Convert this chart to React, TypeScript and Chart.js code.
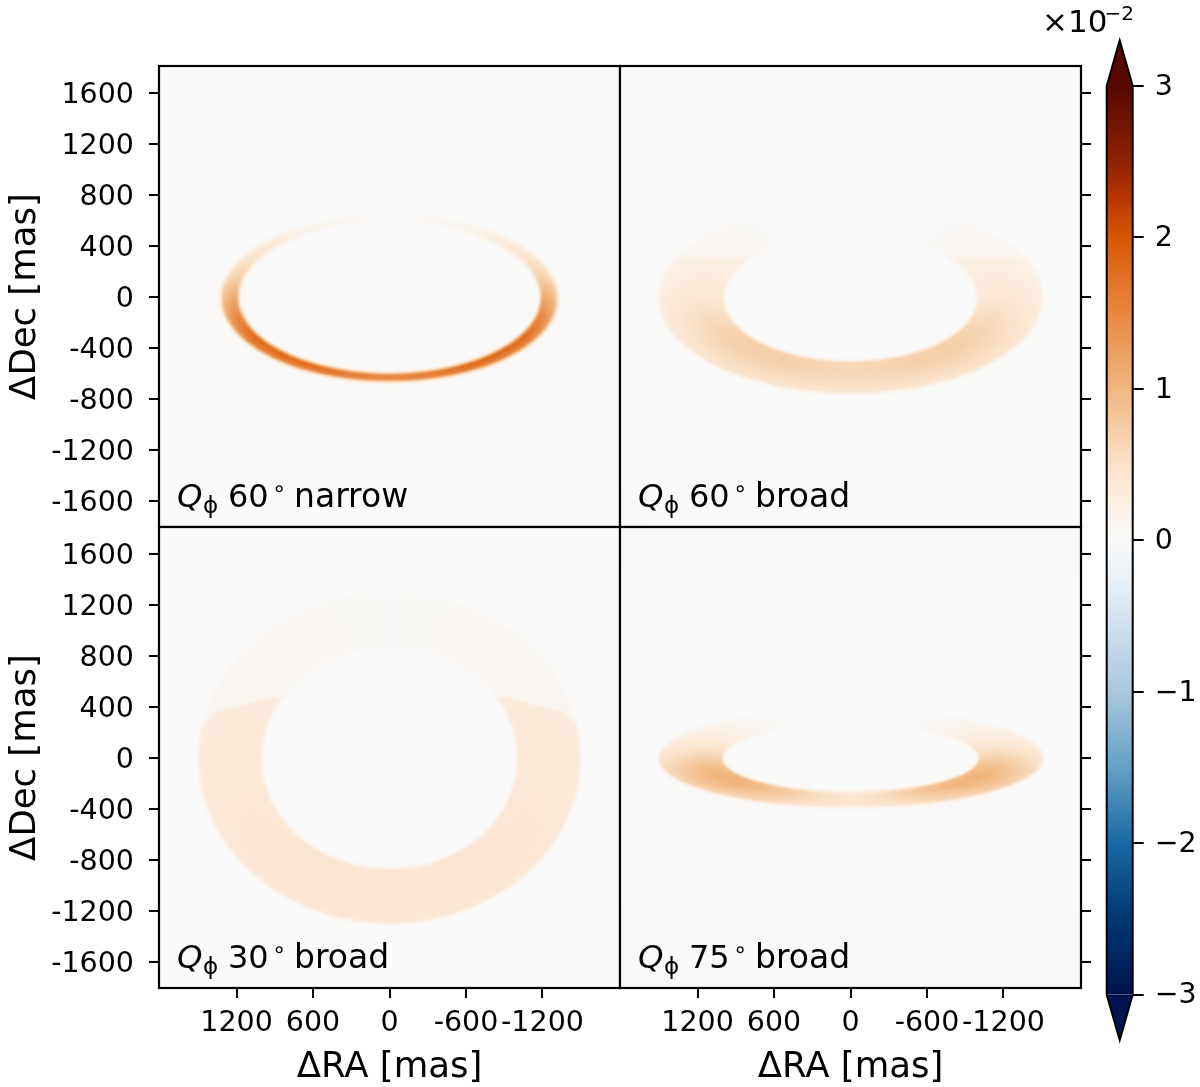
import React, { useEffect, useRef } from "react";
import { Chart, registerables } from "chart.js";

Chart.register(...registerables);

const FONT = '"DejaVu Sans"';
const LIMIT_LOW = -1803;
const LIMIT_HIGH = 1813;
const LIMIT_X = 1808;

// Tick values
const xTicks = [1200, 600, 0, -600, -1200];
const yTicks = [1600, 1200, 800, 400, 0, -400, -800, -1200, -1600];
const colorTicks = [3, 2, 1, 0, -1, -2, -3];
const colorRange = [-3, 3];

// Colour scale: value, r, g, b
const cmapStops = [
  [-3, 0, 20, 80], [-2.5, 0, 55, 115], [-2, 25, 105, 165], [-1.5, 100, 160, 198],
  [-1, 170, 200, 222], [-0.5, 215, 226, 238], [-0.25, 234, 241, 247], [0, 250, 250, 250],
  [0.25, 251, 240, 229], [0.5, 250, 225, 200], [1, 240, 182, 128], [1.5, 232, 135, 65],
  [1.75, 226, 112, 35], [2, 212, 88, 5], [2.25, 185, 55, 0], [2.5, 140, 35, 0], [3, 88, 8, 0],
];

// Ring tables: azimuth across the columns (0 = top, 90 = side, 180 = bottom), radial fraction down the rows
const azimuths = [0, 30, 60, 75, 90, 105, 120, 135, 150, 165, 180];
const radialFractions = [0, 0.33, 0.66, 1];

const narrow60Ring = [
  [0.03, 0.12, 0.4, 0.6, 1.05, 1.4, 1.6, 1.65, 1.6, 1.45, 1.35],
  [0.05, 0.18, 0.46, 0.7, 1.1, 1.5, 1.75, 1.8, 1.78, 1.6, 1.5],
  [0.05, 0.16, 0.42, 0.62, 0.95, 1.3, 1.55, 1.6, 1.6, 1.5, 1.4],
  [0.03, 0.1, 0.3, 0.42, 0.7, 0.95, 1.15, 1.2, 1.2, 1.1, 1.0],
];
const broad60Ring = [
  [0.08, 0.1, 0.25, 0.3, 0.36, 0.52, 0.65, 0.7, 0.7, 0.65, 0.62],
  [0.08, 0.1, 0.27, 0.33, 0.42, 0.58, 0.66, 0.7, 0.7, 0.66, 0.62],
  [0.06, 0.08, 0.24, 0.3, 0.37, 0.47, 0.54, 0.58, 0.58, 0.57, 0.55],
  [0.04, 0.06, 0.18, 0.22, 0.26, 0.32, 0.38, 0.42, 0.42, 0.42, 0.42],
];
const broad30Ring = [
  [0.1, 0.15, 0.32, 0.34, 0.34, 0.36, 0.38, 0.4, 0.4, 0.4, 0.4],
  [0.1, 0.15, 0.33, 0.35, 0.36, 0.38, 0.41, 0.43, 0.43, 0.43, 0.43],
  [0.1, 0.15, 0.32, 0.33, 0.35, 0.37, 0.4, 0.42, 0.42, 0.42, 0.42],
  [0.08, 0.12, 0.28, 0.3, 0.32, 0.34, 0.36, 0.38, 0.38, 0.38, 0.38],
];
const broad75Ring = [
  [0.02, 0.05, 0.28, 0.45, 0.65, 0.85, 0.95, 0.9, 0.72, 0.5, 0.33],
  [0.02, 0.05, 0.3, 0.48, 0.7, 0.92, 1.02, 0.98, 0.82, 0.6, 0.42],
  [0.02, 0.05, 0.28, 0.42, 0.58, 0.76, 0.86, 0.82, 0.7, 0.55, 0.42],
  [0.01, 0.04, 0.2, 0.3, 0.42, 0.55, 0.62, 0.6, 0.52, 0.42, 0.35],
];

// Paler upper part of the ring, by azimuth
const broad60Upper = [0.01, 0.04, 0.11, 0.12, 0.12, 0.12, 0.12, 0.12, 0.12, 0.12, 0.12];
const broad30Upper = [0.05, 0.07, 0.1, 0.12, 0.12, 0.12, 0.12, 0.12, 0.12, 0.12, 0.12];

// Where the ring turns pale: |dRA| and dDec of the boundary
const broad60SplitX = [840, 1319];
const broad60SplitY = [315, 315];
const broad30SplitX = [918, 1150, 1357, 1450];
const broad30SplitY = [479, 416, 363, 275];

// Faint background, coarse grid
const bgX = [-1800, -1350, -900, -450, 0, 450, 900, 1350, 1800];
const bgY = [1800, 1350, 900, 450, 0, -450, -900, -1350, -1800];
const narrow60Bg = [
  [0, -0.01, -0.02, -0.03, -0.03, -0.03, -0.02, -0.01, 0],
  [0, -0.01, -0.04, -0.04, -0.04, -0.04, -0.04, -0.01, 0],
  [0, 0, -0.01, -0.03, -0.04, -0.03, -0.01, 0, 0],
  [0, 0, 0, -0.01, -0.03, -0.01, 0, 0, 0],
  [0.01, 0.03, 0.01, 0.01, -0.03, 0.01, 0.01, 0.03, 0.01],
  [0, 0.02, 0.02, 0.02, 0.02, 0.02, 0.02, 0.02, 0],
  [0, 0.01, 0.01, 0.02, 0.02, 0.02, 0.01, 0.01, 0],
  [0, 0, 0, 0, 0, 0, 0, 0, 0],
  [-0.01, 0, 0, 0, 0, 0, 0, 0, -0.02],
];
const broad60Bg = [
  [-0.01, -0.01, -0.02, -0.03, -0.03, -0.03, -0.02, -0.01, -0.01],
  [0, -0.01, -0.04, -0.04, -0.04, -0.04, -0.04, -0.01, 0],
  [0, 0, -0.01, -0.03, -0.04, -0.03, -0.01, 0, 0],
  [0, 0, 0, -0.01, -0.03, -0.01, 0, 0, 0],
  [0, 0.01, 0, 0, -0.03, 0, 0, 0.01, 0],
  [0, 0.01, 0.01, 0, 0, 0, 0.01, 0.01, 0],
  [0, 0, 0.01, 0.01, 0.01, 0.01, 0.01, 0, 0],
  [0, 0, 0, 0, 0, 0, 0, 0, -0.01],
  [-0.01, 0, 0, 0, 0, 0, 0, -0.01, -0.02],
];
const broad30Bg = [
  [0, 0, 0, 0, 0, 0, 0, 0, 0],
  [0, 0, 0, 0, 0, 0, 0, 0, 0],
  [0, 0, 0, 0, 0, 0, 0, 0, 0],
  [0, 0, 0, 0, -0.01, 0, 0, 0, 0],
  [0, 0.01, 0, 0, -0.02, 0, 0, 0.01, 0],
  [0, 0.01, 0, 0, 0, 0, 0, 0.01, 0],
  [0, 0, 0.01, 0.01, 0, 0.01, 0.01, 0, 0],
  [0, 0, 0, 0.01, 0.01, 0.01, 0, 0, 0],
  [0, 0, 0, 0, 0, 0, 0, 0, 0],
];
const broad75Bg = [
  [-0.03, -0.03, -0.03, -0.03, -0.03, -0.03, -0.03, -0.03, -0.02],
  [-0.01, -0.03, -0.04, -0.04, -0.04, -0.04, -0.04, -0.03, -0.01],
  [0, 0, -0.03, -0.04, -0.04, -0.04, -0.03, 0, 0],
  [0, 0, 0, -0.02, -0.03, -0.02, 0, 0, 0],
  [0, 0.01, 0.01, 0, -0.02, 0, 0.01, 0.01, 0],
  [0, 0.01, 0.03, 0.02, -0.01, 0.02, 0.03, 0.01, 0],
  [0, -0.01, 0, -0.02, -0.03, -0.02, 0, -0.01, 0],
  [-0.02, -0.03, -0.03, -0.04, -0.04, -0.04, -0.03, -0.03, -0.02],
  [-0.03, -0.03, -0.04, -0.04, -0.04, -0.04, -0.04, -0.03, -0.03],
];

type Panel = {
  label: string; name: string;
  ri: number; ro: number; q: number; y0: number; soft: number;
  ring: number[][]; bg: number[][];
  upper?: number[]; splitX?: number[]; splitY?: number[];
  frame: { left: number; top: number; width: number; height: number; pad: number[] };
  leftLabels: boolean; bottomLabels: boolean;
};

const panels: Panel[] = [
  { label: "60", name: "narrow", ri: 1180, ro: 1325, q: 0.5, y0: -5, soft: 28, ring: narrow60Ring, bg: narrow60Bg,
    frame: { left: 0, top: 0, width: 640, height: 587, pad: [0, 66, 20, 60] }, leftLabels: true, bottomLabels: false },
  { label: "60", name: "broad", ri: 990, ro: 1507, q: 0.5, y0: -5, soft: 26, ring: broad60Ring, bg: broad60Bg,
    upper: broad60Upper, splitX: broad60SplitX, splitY: broad60SplitY,
    frame: { left: 600, top: 0, width: 600, height: 587, pad: [20, 66, 0, 60] }, leftLabels: false, bottomLabels: false },
  { label: "30", name: "broad", ri: 1000, ro: 1500, q: 0.866, y0: 0, soft: 26, ring: broad30Ring, bg: broad30Bg,
    upper: broad30Upper, splitX: broad30SplitX, splitY: broad30SplitY,
    frame: { left: 0, top: 467, width: 640, height: 624, pad: [0, 60, 20, 0] }, leftLabels: true, bottomLabels: true },
  { label: "75", name: "broad", ri: 1000, ro: 1509, q: 0.26, y0: 0, soft: 24, ring: broad75Ring, bg: broad75Bg,
    frame: { left: 600, top: 467, width: 600, height: 624, pad: [20, 60, 0, 0] }, leftLabels: false, bottomLabels: true },
];

const clamp01 = (t: number) => Math.max(0, Math.min(1, t));
const smooth = (t: number) => {
  const u = clamp01((t + 1) / 2);
  return u * u * (3 - 2 * u);
};

function colorOf(v: number): [number, number, number] {
  const s = cmapStops;
  if (v <= s[0][0]) return [s[0][1], s[0][2], s[0][3]];
  for (let i = 1; i < s.length; i++) {
    if (v <= s[i][0]) {
      const f = (v - s[i - 1][0]) / (s[i][0] - s[i - 1][0]);
      return [
        s[i - 1][1] + f * (s[i][1] - s[i - 1][1]),
        s[i - 1][2] + f * (s[i][2] - s[i - 1][2]),
        s[i - 1][3] + f * (s[i][3] - s[i - 1][3]),
      ];
    }
  }
  const l = s[s.length - 1];
  return [l[1], l[2], l[3]];
}

function locate(list: number[], v: number): [number, number] {
  const asc = list[1] > list[0];
  for (let i = 0; i < list.length - 1; i++) {
    const a = list[i], b = list[i + 1];
    if (asc ? v <= b : v >= b) return [i, clamp01((v - a) / (b - a))];
  }
  return [list.length - 2, 1];
}

function bgValue(p: Panel, x: number, y: number) {
  const [i, fx] = locate(bgX, x);
  const [j, fy] = locate(bgY, y);
  const t = p.bg;
  return (t[j][i] * (1 - fx) + t[j][i + 1] * fx) * (1 - fy) + (t[j + 1][i] * (1 - fx) + t[j + 1][i + 1] * fx) * fy;
}

function ringValue(p: Panel, x: number, y: number) {
  const yy = y - p.y0;
  const v = yy / p.q;
  const rho = Math.hypot(x, v) || 1;
  if (rho < p.ri - 300 || rho > p.ro + 300) return 0;
  const grad = Math.hypot(x, v / p.q) / rho;
  const mask = smooth((rho - p.ri) / grad / p.soft) * smooth((p.ro - rho) / grad / p.soft);
  if (mask <= 0) return 0;
  const az = (Math.atan2(Math.abs(x), v) * 180) / Math.PI;
  const [c, fc] = locate(azimuths, az);
  const [r, fr] = locate(radialFractions, clamp01((rho - p.ri) / (p.ro - p.ri)));
  const t = p.ring;
  let val = (t[r][c] * (1 - fc) + t[r][c + 1] * fc) * (1 - fr) + (t[r + 1][c] * (1 - fc) + t[r + 1][c + 1] * fc) * fr;
  if (p.upper && p.splitX && p.splitY) {
    const [k, fk] = locate(p.splitX, Math.abs(x));
    const edge = p.splitY[k] * (1 - fk) + p.splitY[k + 1] * fk;
    const w = clamp01((yy - edge) / 30 + 0.5);
    const up = p.upper[c] * (1 - fc) + p.upper[c + 1] * fc;
    val = val * (1 - w) + up * w;
  }
  return mask * val;
}

const heatPlugin = {
  id: "heat",
  beforeDatasetsDraw(chart: any) {
    const p: Panel = chart.options.plugins.heat.panel;
    const { left, top, width, height } = chart.chartArea;
    const w = Math.ceil(width), h = Math.ceil(height);
    const off = document.createElement("canvas");
    off.width = w;
    off.height = h;
    const oc = off.getContext("2d") as CanvasRenderingContext2D;
    const img = oc.createImageData(w, h);
    const xs = chart.scales.x, ys = chart.scales.y;
    for (let j = 0; j < h; j++) {
      const dy = ys.getValueForPixel(top + j + 0.5);
      for (let i = 0; i < w; i++) {
        const dx = xs.getValueForPixel(left + i + 0.5);
        const col = colorOf(bgValue(p, dx, dy) + ringValue(p, dx, dy));
        const k = (j * w + i) * 4;
        img.data[k] = col[0];
        img.data[k + 1] = col[1];
        img.data[k + 2] = col[2];
        img.data[k + 3] = 255;
      }
    }
    oc.putImageData(img, 0, 0);
    chart.ctx.drawImage(off, left, top, width, height);
  },
  afterDraw(chart: any) {
    const p: Panel = chart.options.plugins.heat.panel;
    const { left, bottom, width, height, top } = chart.chartArea;
    const ctx = chart.ctx;
    ctx.save();
    ctx.strokeStyle = "#000";
    ctx.lineWidth = 2.2;
    ctx.strokeRect(left, top, width, height);
    ctx.fillStyle = "#000";
    ctx.textBaseline = "alphabetic";
    ctx.textAlign = "left";
    const tx = left + 18, ty = bottom - 20.5;
    ctx.font = `italic 32.5px ${FONT}`;
    ctx.fillText("Q", tx, ty);
    ctx.font = `23px ${FONT}`;
    ctx.fillText("\u03D5", tx + 26, ty + 6);
    ctx.font = `32px ${FONT}`;
    ctx.fillText(p.label, tx + 51, ty);
    ctx.font = `23px ${FONT}`;
    ctx.fillText("\u2218", tx + 95, ty - 11);
    ctx.font = `33px ${FONT}`;
    ctx.fillText(p.name, tx + 117, ty);
    ctx.restore();
  },
};

const colorbarPlugin = {
  id: "colorbarDecor",
  afterDraw(chart: any) {
    const { left, right } = chart.chartArea;
    const ys = chart.scales.y;
    const t = ys.getPixelForValue(colorRange[1]);
    const b = ys.getPixelForValue(colorRange[0]);
    const mid = (left + right) / 2;
    const tip = 45.5;
    const ctx = chart.ctx;
    ctx.save();
    const hi = colorOf(colorRange[1]);
    const lo = colorOf(colorRange[0]);
    ctx.fillStyle = `rgb(${hi.join(",")})`;
    ctx.beginPath();
    ctx.moveTo(left, t);
    ctx.lineTo(mid, t - tip);
    ctx.lineTo(right, t);
    ctx.closePath();
    ctx.fill();
    ctx.fillStyle = `rgb(${lo.join(",")})`;
    ctx.beginPath();
    ctx.moveTo(left, b);
    ctx.lineTo(mid, b + tip);
    ctx.lineTo(right, b);
    ctx.closePath();
    ctx.fill();
    ctx.strokeStyle = "#000";
    ctx.lineWidth = 2;
    ctx.beginPath();
    ctx.moveTo(left, t);
    ctx.lineTo(mid, t - tip);
    ctx.lineTo(right, t);
    ctx.lineTo(right, b);
    ctx.lineTo(mid, b + tip);
    ctx.lineTo(left, b);
    ctx.closePath();
    ctx.stroke();
    ctx.fillStyle = "#000";
    ctx.textAlign = "left";
    ctx.textBaseline = "alphabetic";
    ctx.font = `31px ${FONT}`;
    ctx.fillText("\u00D710", 12, 31.5);
    ctx.font = `20px ${FONT}`;
    ctx.fillText("\u22122", 74.5, 20);
    ctx.restore();
  },
};

function panelConfig(p: Panel): any {
  const rightSide = !p.leftLabels;
  const nodes: any[] = [];
  radialFractions.forEach((s, r) => {
    azimuths.forEach((az, c) => {
      const rho = p.ri + s * (p.ro - p.ri);
      const a = (az * Math.PI) / 180;
      nodes.push({ x: rho * Math.sin(a), y: p.y0 + p.q * rho * Math.cos(a), v: p.ring[r][c] });
    });
  });
  const [pl, pt, pr, pb] = p.frame.pad;
  return {
    type: "scatter",
    data: { datasets: [{ label: `Q\u03D5 ${p.label}\u00B0 ${p.name}`, data: nodes, pointRadius: 0, showLine: false }] },
    plugins: [heatPlugin],
    options: {
      responsive: false,
      animation: false,
      events: [],
      layout: { padding: { left: pl, top: pt, right: pr, bottom: pb } },
      plugins: { legend: { display: false }, tooltip: { enabled: false }, heat: { panel: p } },
      scales: {
        x: {
          type: "linear",
          display: p.bottomLabels,
          reverse: true,
          min: -LIMIT_X,
          max: LIMIT_X,
          afterBuildTicks: (s: any) => { s.ticks = xTicks.map((value) => ({ value })); },
          afterFit: (s: any) => { if (p.bottomLabels) s.height = 103; },
          border: { display: false },
          grid: { drawOnChartArea: false, drawTicks: true, tickLength: 10, color: "#000", lineWidth: 2 },
          ticks: {
            color: "#000", font: { family: "DejaVu Sans", size: 28.5 }, padding: 8, maxRotation: 0, autoSkip: false,
            callback: (v: number) => `${v}`,
          },
          title: { display: true, text: "\u0394RA [mas]", color: "#000", font: { family: "DejaVu Sans", size: 35.5 }, padding: { top: 0, bottom: 2 } },
        },
        y: {
          type: "linear",
          position: rightSide ? "right" : "left",
          min: LIMIT_LOW,
          max: LIMIT_HIGH,
          afterBuildTicks: (s: any) => { s.ticks = yTicks.map((value) => ({ value })); },
          afterFit: (s: any) => { s.width = rightSide ? 119 : 159; },
          border: { display: false },
          grid: { drawOnChartArea: false, drawTicks: true, tickLength: 10, color: "#000", lineWidth: 2 },
          ticks: {
            display: !rightSide,
            color: "#000", font: { family: "DejaVu Sans", size: 28.5 }, padding: 15, autoSkip: false, labelOffset: 2,
            callback: (v: number) => `${v}`,
          },
          title: {
            display: !rightSide, text: "\u0394Dec [mas]", color: "#000",
            font: { family: "DejaVu Sans", size: 35.5 }, padding: { top: 4, bottom: 0 },
          },
        },
      },
    },
  };
}

function colorbarConfig(): any {
  return {
    type: "bar",
    data: {
      labels: ["colour"],
      datasets: [{
        label: "Q\u03D5",
        data: [colorRange],
        barPercentage: 1,
        categoryPercentage: 1,
        borderWidth: 0,
        backgroundColor: (ctx: any) => {
          const ca = ctx.chart.chartArea;
          if (!ca) return "#fafafa";
          const ys = ctx.chart.scales.y;
          const t = ys.getPixelForValue(colorRange[1]);
          const b = ys.getPixelForValue(colorRange[0]);
          const g = ctx.chart.ctx.createLinearGradient(0, t, 0, b);
          cmapStops.forEach((s) => {
            g.addColorStop((t - ys.getPixelForValue(s[0])) / (t - b), `rgb(${s[1]},${s[2]},${s[3]})`);
          });
          return g;
        },
      }],
    },
    plugins: [colorbarPlugin],
    options: {
      responsive: false,
      animation: false,
      events: [],
      layout: { padding: { left: 76.7, top: 86, right: 0, bottom: 92.5 } },
      plugins: { legend: { display: false }, tooltip: { enabled: false } },
      scales: {
        x: { type: "category", display: false },
        y: {
          type: "linear",
          position: "right",
          min: colorRange[0],
          max: colorRange[1],
          afterBuildTicks: (s: any) => { s.ticks = colorTicks.map((value) => ({ value })); },
          afterFit: (s: any) => { s.width = 67.3; },
          border: { display: false },
          grid: { drawOnChartArea: false, drawTicks: true, tickLength: 11, color: "#000", lineWidth: 2 },
          ticks: {
            color: "#000", font: { family: "DejaVu Sans", size: 28.5 }, padding: 11, autoSkip: false, labelOffset: 1.5,
            callback: (v: number) => (v < 0 ? `\u2212${-v}` : `${v}`),
          },
        },
      },
    },
  };
}

export default function App() {
  const panelRefs = useRef<(HTMLCanvasElement | null)[]>([]);
  const barRef = useRef<HTMLCanvasElement | null>(null);
  useEffect(() => {
    const charts = panels.map((p, i) => new Chart(panelRefs.current[i] as HTMLCanvasElement, panelConfig(p)));
    charts.push(new Chart(barRef.current as HTMLCanvasElement, colorbarConfig()));
    return () => charts.forEach((c) => c.destroy());
  }, []);
  return (
    <div style={{ position: "absolute", left: 0, top: 0, width: 1200, height: 1087, background: "#fff", overflow: "hidden" }}>
      {panels.map((p, i) => (
        <canvas
          key={i}
          ref={(el) => { panelRefs.current[i] = el; }}
          width={p.frame.width}
          height={p.frame.height}
          style={{ position: "absolute", left: p.frame.left, top: p.frame.top }}
        />
      ))}
      <canvas ref={barRef} width={170} height={1087} style={{ position: "absolute", left: 1030, top: 0 }} />
    </div>
  );
}
